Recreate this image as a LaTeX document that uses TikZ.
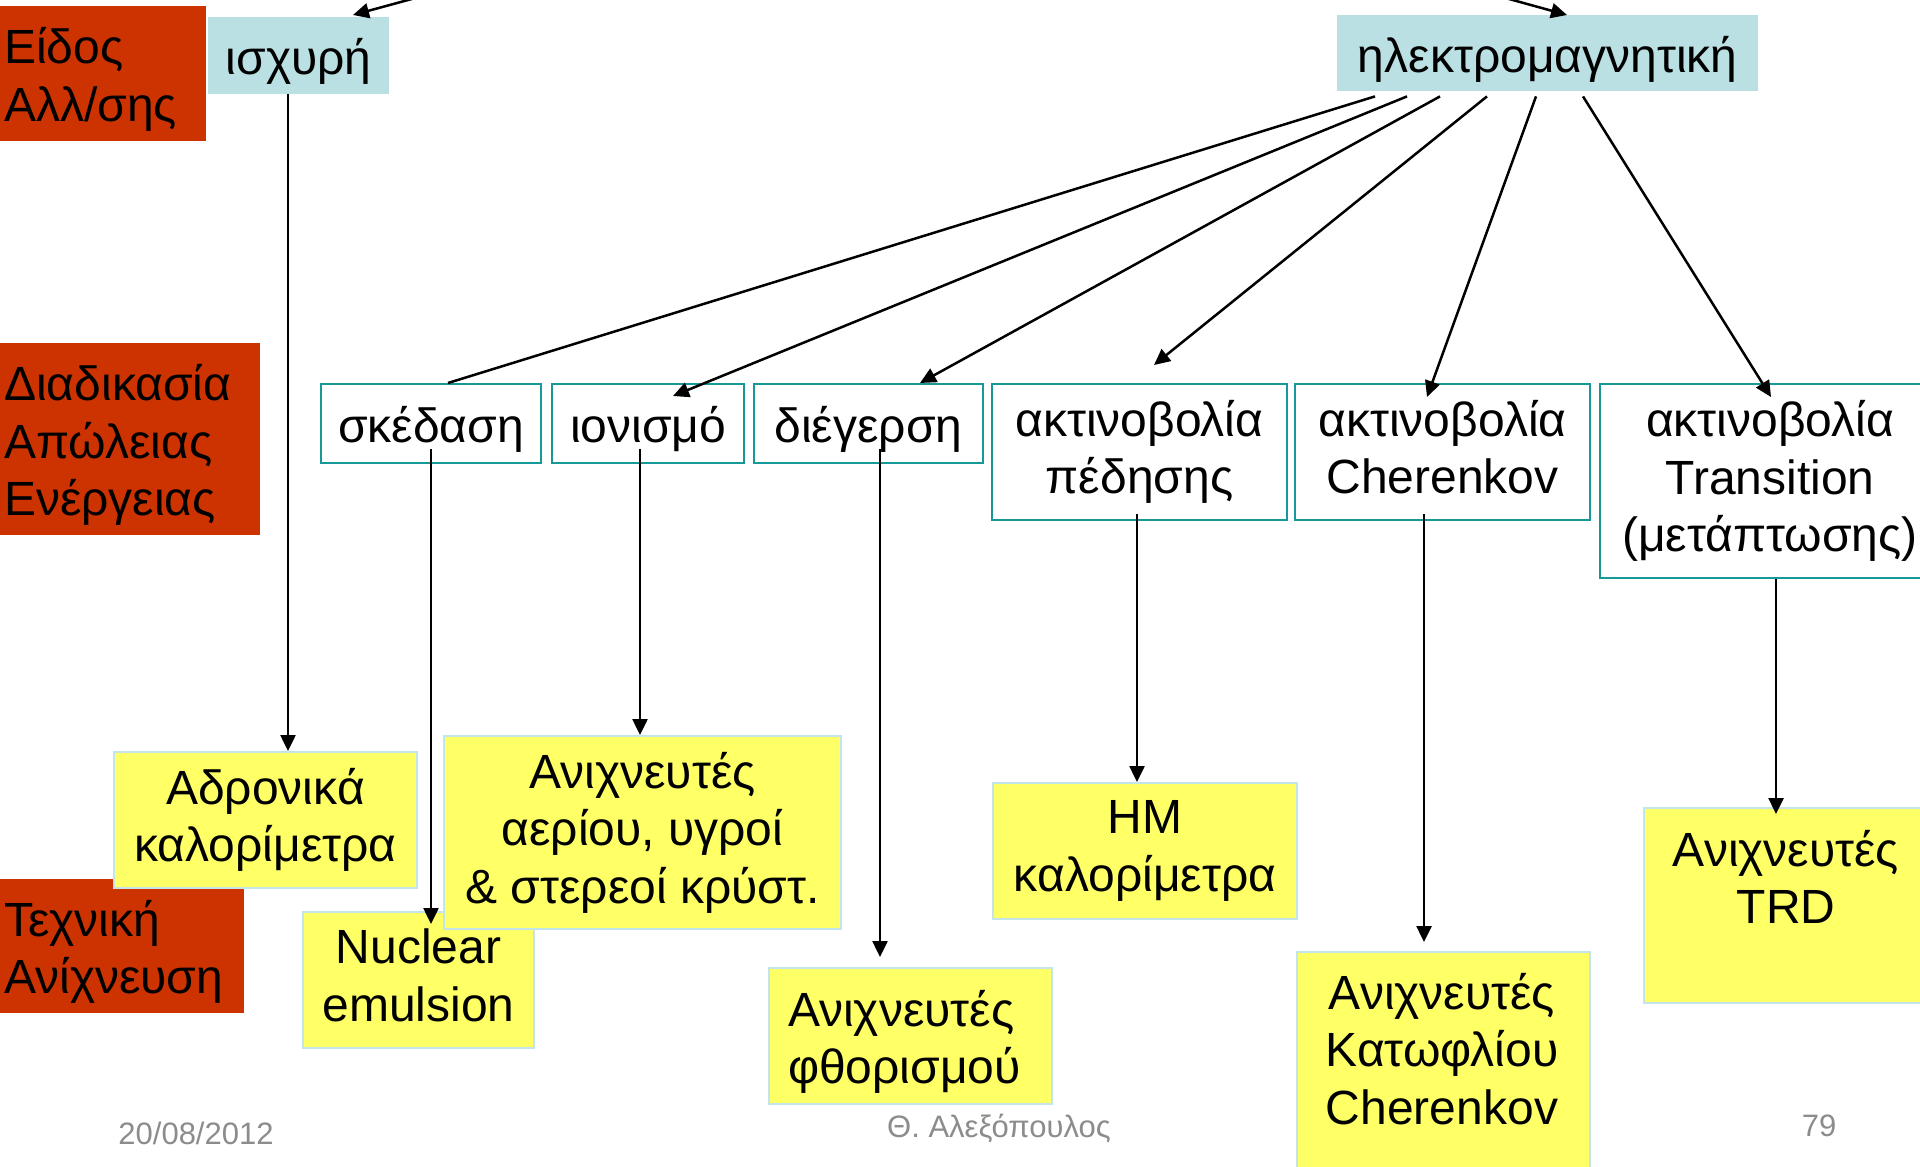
\documentclass[tikz,border=0pt]{standalone}
\usepackage{fontspec}
\setmainfont{Liberation Sans}
\usetikzlibrary{arrows.meta}
\definecolor{redc}{RGB}{204,51,0}
\definecolor{lblue}{RGB}{187,224,227}
\definecolor{tealc}{RGB}{22,153,153}
\definecolor{yel}{RGB}{255,255,102}
\definecolor{ybord}{RGB}{196,228,236}
\definecolor{footc}{RGB}{140,140,140}
\begin{document}
\begin{tikzpicture}[x=1pt,y=-1pt,
  every node/.style={font=\fontsize{48}{57.5}\selectfont},
  anybox/.style={rectangle, inner sep=0pt, anchor=north west, align=center,
    execute at begin node={\rule{0pt}{48pt}},
    execute at end node={\rule[-10pt]{0pt}{0pt}}},
  rbox/.style={anybox, fill=redc, align=left, inner xsep=4pt},
  tbox/.style={anybox, fill=lblue},
  wbox/.style={anybox, fill=white, draw=tealc, line width=2pt},
  ybox/.style={anybox, fill=yel, draw=ybord, line width=2pt},
  txt/.style={align=center, inner sep=0pt},
  foot/.style={text=footc, inner sep=0pt, font=\fontsize{31}{36}\selectfont},
  conn/.style={line width=2.5pt, -{Triangle[length=16pt,width=15pt]}},
  plain/.style={line width=2.5pt}
]
\useasboundingbox (0,0) rectangle (1920,1167);
\fill[white] (0,0) rectangle (1920,1167);

% red category boxes
\node[rbox, text width=198pt, minimum height=135pt] (r1) at (0,6) {Είδος\\Αλλ/σης};
\node[rbox, text width=252pt, minimum height=192pt] (r2) at (0,343) {Διαδικασία\\Απώλειας\\Ενέργειας};
\node[rbox, text width=236pt, minimum height=134pt] (r3) at (0,879) {Τεχνική\\Ανίχνευση};

% top boxes
\node[tbox, minimum width=181pt, minimum height=77pt] (isx) at (208,17) {ισχυρή};
\node[tbox, minimum width=421pt, minimum height=76pt] (em) at (1337,15) {ηλεκτρομαγνητική};

% middle boxes
\node[wbox, minimum width=220pt, minimum height=79pt] (sk) at (320,383) {σκέδαση};
\node[wbox, minimum width=192pt, minimum height=79pt] (io) at (551,383) {ιονισμό};
\node[wbox, minimum width=229pt, minimum height=79pt] (di) at (753,383) {διέγερση};
\node[wbox, minimum width=295pt, minimum height=136pt] (pe) at (991,383) {ακτινοβολία\\πέδησης};
\node[wbox, minimum width=295pt, minimum height=136pt] (ch) at (1294,383) {ακτινοβολία\\Cherenkov};
\node[wbox, minimum width=340pt, minimum height=194pt] (tr) at (1599,383) {ακτινοβολία\\Transition\\(μετάπτωσης)};

% yellow detector boxes
\node[ybox, minimum width=303pt, minimum height=136pt] (hadr) at (113,751) {Αδρονικά\\καλορίμετρα};
\node[ybox, minimum width=231pt, minimum height=136pt] (emul) at (302,911) {Nuclear\\emulsion};
\node[ybox, minimum width=397pt, minimum height=193pt] (gas) at (443,735) {Ανιχνευτές\\αερίου, υγροί\\\& στερεοί κρύστ.};
\node[ybox, align=left, text width=245pt, inner xsep=19pt, minimum height=136pt] (flu) at (768,967) {Ανιχνευτές\\φθορισμού};
\node[ybox, minimum width=304pt, minimum height=136pt] (hm) at (992,782) {ΗΜ\\καλορίμετρα};
\node[ybox, minimum width=293pt, minimum height=230pt] (chd) at (1296,951) {};
\node[txt] (chdt) at (1442,1049) {Ανιχνευτές\\Κατωφλίου\\Cherenkov};
\node[ybox, minimum width=290pt, minimum height=195pt] (trd) at (1643,807) {};
\node[txt] (trdt) at (1786,877) {Ανιχνευτές\\TRD};

% arrows from above (off the picture)
\coordinate (a1) at (430,-6);
\coordinate (a2) at (1491,-6);
\draw[conn] (a1) -- ([xshift=145pt,yshift=2pt]isx.north west);
\draw[conn] (a2) -- ([xshift=230pt]em.north west);

% fan-out from electromagnetic
\draw[plain] ([xshift=38pt,yshift=-5pt]em.south west) -- ([xshift=128pt]sk.north west);
\draw[conn] ([xshift=70pt,yshift=-5pt]em.south west) -- ([xshift=122pt,yshift=-13pt]io.north west);
\draw[conn] ([xshift=103pt,yshift=-5pt]em.south west) -- ([xshift=167pt]di.north west);
\draw[conn] ([xshift=150pt,yshift=-5pt]em.south west) -- ([xshift=163pt,yshift=18pt]pe.north west);
\draw[conn] ([xshift=199pt,yshift=-5pt]em.south west) -- ([xshift=133pt,yshift=-14pt]ch.north west);
\draw[conn] ([xshift=246pt,yshift=-5pt]em.south west) -- ([xshift=172pt,yshift=-14pt]tr.north west);

% vertical connectors to detectors
\draw[conn] ([xshift=80pt]isx.south west) -- ([xshift=175pt]hadr.north west);
\draw[conn] ([xshift=111pt,yshift=15pt]sk.south west) -- ([xshift=129pt,yshift=-13pt]emul.north west);
\draw[conn] ([xshift=89pt,yshift=15pt]io.south west) -- ([xshift=197pt]gas.north west);
\draw[conn] ([xshift=127pt,yshift=15pt]di.south west) -- ([xshift=112pt,yshift=10pt]flu.north west);
\draw[conn] ([xshift=146pt,yshift=7pt]pe.south west) -- ([xshift=145pt]hm.north west);
\draw[conn] ([xshift=130pt,yshift=7pt]ch.south west) -- ([xshift=128pt,yshift=9pt]chd.north west);
\draw[conn] ([xshift=177pt]tr.south west) -- ([xshift=133pt,yshift=-7pt]trd.north west);

% footer
\node[foot] (date) at (196,1133) {20/08/2012};
\node[foot] (auth) at (999,1128) {Θ. Αλεξόπουλος};
\node[foot] (page) at (1819,1126) {79};
\end{tikzpicture}
\end{document}
